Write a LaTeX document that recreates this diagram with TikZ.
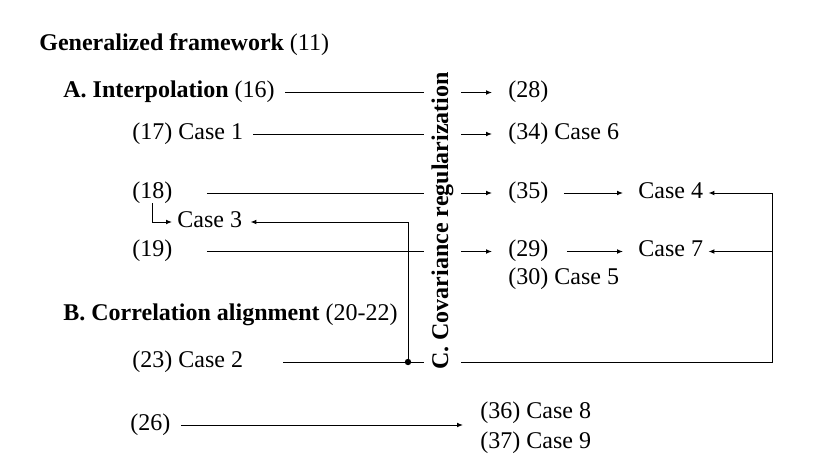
\documentclass[tikz,border=0pt]{standalone}
\usepackage{fontspec}
\setmainfont{Liberation Serif}
\usetikzlibrary{arrows.meta}
\begin{document}
\begin{tikzpicture}[x=0.5pt, y=-0.5pt,
  every node/.style={font=\fontsize{12}{14}\selectfont},
  lbl/.style={anchor=west, inner xsep=5pt, inner ysep=0.5pt, text height=0.7em, text depth=0.2em},
  arr/.style={line width=0.5pt, -{Latex[length=3pt,width=2.4pt]}, shorten >=3pt},
  line/.style={line width=0.5pt}]
  \useasboundingbox (0,0) rectangle (830,467);

  \node[lbl] (gen) at (29,45) {\textbf{Generalized framework} (11)};
  \node[lbl] (intp) at (53,92.5) {\textbf{A. Interpolation} (16)};
  \node[lbl] (n17) at (122,134) {(17) Case 1};
  \node[lbl] (n18) at (122,193) {(18)};
  \node[lbl] (case3) at (167,222) {Case 3};
  \node[lbl] (n19) at (122,251.5) {(19)};
  \node[lbl] (corr) at (53,315) {\textbf{B. Correlation alignment} (20-22)};
  \node[lbl] (n23) at (122,362) {(23) Case 2};
  \node[lbl] (n26) at (120,425) {(26)};

  \node[lbl] (n28) at (498,92.5) {(28)};
  \node[lbl] (n34) at (498,134) {(34) Case 6};
  \node[lbl] (n35) at (498,193) {(35)};
  \node[lbl] (n29) at (498,251.5) {(29)};
  \node[lbl] (n30) at (498,279) {(30) Case 5};
  \node[lbl] (case4) at (628,193) {Case 4};
  \node[lbl] (case7) at (628,251.5) {Case 7};
  \node[lbl] (n36) at (470,413) {(36) Case 8};
  \node[lbl] (n37) at (470,443) {(37) Case 9};

  \coordinate (jn) at (408,362);
  \coordinate (rb) at (772,362);

  \draw[arr] (intp.east) -- (n28.west);
  \draw[arr] (n17.east) -- (n34.west);
  \draw[arr] ([xshift=12pt]n18.east) -- (n35.west);
  \draw[arr] ([xshift=12pt]n19.east) -- (n29.west);
  \draw[arr, shorten <=2.5pt, shorten >=2.5pt] (n35.east) -- (case4.west);
  \draw[arr, shorten <=4pt, shorten >=2.5pt] (n29.east) -- (case7.west);
  \draw[arr, shorten >=-2.5pt] (n18.south) |- (case3.west);
  \draw[arr, shorten >=-1pt] (jn) |- (case3.east);
  \draw[arr, shorten >=-2.5pt] ([xshift=15pt]n23.east) -- (rb) |- (case4.east);
  \draw[arr, shorten >=-2.5pt] (rb |- case7.east) -- (case7.east);
  \draw[arr, shorten >=3.5pt] (n26.east) -- (n26.east -| n36.west);
  \fill (jn) circle (1.6pt);

  \node[rotate=90, fill=white, inner xsep=1pt, inner ysep=4pt, font=\fontsize{12}{14}\selectfont\bfseries] (creg) at (442.5,221) {C. Covariance regularization};
\end{tikzpicture}
\end{document}
